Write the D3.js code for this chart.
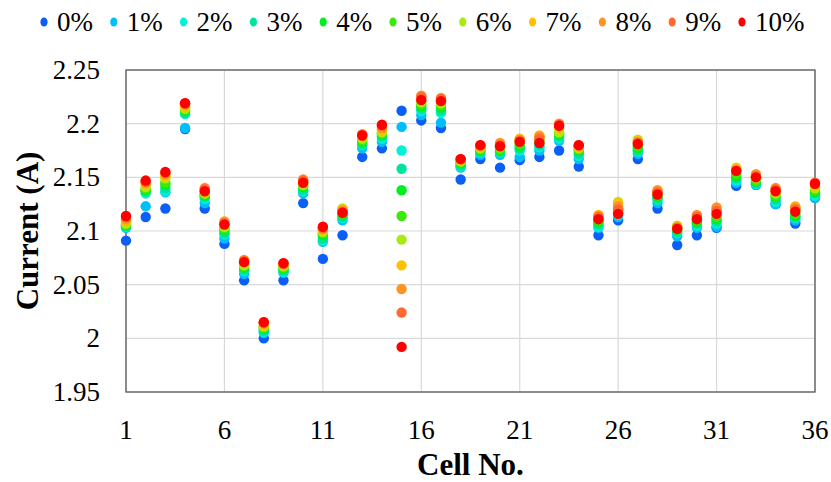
<!DOCTYPE html>
<html>
<head>
<script src="https://cdn.jsdelivr.net/npm/d3@7"></script>
</head>
<body style="margin:0">
<svg id="s" width="831" height="482"></svg>
<script>
// cell numbers and the x ticks
const cells = d3.range(1, 37)
const xTicks = [1, 6, 11, 16, 21, 26, 31, 36]
const yTicks = [1.95, 2, 2.05, 2.1, 2.15, 2.2, 2.25]

// legend names, one per fault level
const series = ["0%", "1%", "2%", "3%", "4%", "5%", "6%", "7%", "8%", "9%", "10%"]
const colors = ["#0b5ff7", "#00bff8", "#00f0d8", "#00e3a0", "#00ee22", "#3de80a",
                "#aaea10", "#ffc000", "#ff9422", "#ff6a30", "#ff0000"]

// current (A) per cell, one array per series
const current0 = [2.091, 2.113, 2.121, 2.195, 2.121, 2.088, 2.054, 2.000, 2.054, 2.126, 2.074, 2.096, 2.169, 2.177, 2.212, 2.203, 2.196, 2.148, 2.167, 2.159, 2.166, 2.169, 2.175, 2.160, 2.096, 2.110, 2.167, 2.121, 2.087, 2.096, 2.103, 2.142, 2.143, 2.125, 2.107, 2.131]
const current1 = [2.103, 2.123, 2.136, 2.196, 2.126, 2.093, 2.060, 2.005, 2.061, 2.135, 2.090, 2.110, 2.177, 2.183, 2.197, 2.208, 2.201, 2.159, 2.171, 2.171, 2.169, 2.175, 2.184, 2.167, 2.103, 2.113, 2.172, 2.126, 2.095, 2.103, 2.104, 2.145, 2.143, 2.125, 2.110, 2.131]
const current2 = [2.104, 2.135, 2.137, 2.209, 2.130, 2.097, 2.063, 2.006, 2.062, 2.137, 2.091, 2.112, 2.180, 2.186, 2.175, 2.212, 2.210, 2.160, 2.173, 2.173, 2.175, 2.178, 2.186, 2.170, 2.104, 2.115, 2.174, 2.129, 2.098, 2.105, 2.107, 2.147, 2.144, 2.127, 2.112, 2.133]
const current3 = [2.105, 2.137, 2.140, 2.210, 2.132, 2.098, 2.064, 2.007, 2.063, 2.138, 2.093, 2.113, 2.181, 2.188, 2.158, 2.214, 2.212, 2.161, 2.174, 2.174, 2.177, 2.180, 2.188, 2.172, 2.106, 2.117, 2.175, 2.130, 2.099, 2.107, 2.109, 2.149, 2.145, 2.129, 2.113, 2.135]
const current4 = [2.105, 2.138, 2.143, 2.212, 2.133, 2.101, 2.066, 2.009, 2.065, 2.141, 2.096, 2.115, 2.183, 2.190, 2.138, 2.216, 2.215, 2.163, 2.175, 2.175, 2.179, 2.182, 2.190, 2.175, 2.108, 2.119, 2.177, 2.132, 2.101, 2.108, 2.111, 2.151, 2.146, 2.132, 2.114, 2.136]
const current5 = [2.106, 2.139, 2.145, 2.213, 2.134, 2.102, 2.067, 2.010, 2.066, 2.142, 2.098, 2.116, 2.184, 2.191, 2.114, 2.218, 2.217, 2.164, 2.176, 2.176, 2.181, 2.184, 2.191, 2.176, 2.110, 2.121, 2.179, 2.133, 2.102, 2.110, 2.113, 2.153, 2.147, 2.133, 2.116, 2.138]
const current6 = [2.107, 2.141, 2.149, 2.214, 2.135, 2.104, 2.068, 2.011, 2.067, 2.143, 2.099, 2.121, 2.186, 2.192, 2.092, 2.220, 2.219, 2.165, 2.177, 2.178, 2.184, 2.187, 2.192, 2.177, 2.112, 2.127, 2.185, 2.135, 2.105, 2.112, 2.116, 2.159, 2.149, 2.135, 2.120, 2.140]
const current7 = [2.109, 2.143, 2.151, 2.216, 2.137, 2.107, 2.071, 2.012, 2.068, 2.145, 2.101, 2.120, 2.188, 2.194, 2.068, 2.223, 2.222, 2.166, 2.178, 2.180, 2.186, 2.189, 2.196, 2.178, 2.115, 2.126, 2.184, 2.137, 2.104, 2.114, 2.119, 2.158, 2.151, 2.137, 2.123, 2.142]
const current8 = [2.111, 2.145, 2.153, 2.218, 2.140, 2.109, 2.073, 2.014, 2.069, 2.148, 2.102, 2.119, 2.190, 2.196, 2.046, 2.226, 2.224, 2.167, 2.179, 2.182, 2.185, 2.188, 2.200, 2.179, 2.114, 2.123, 2.183, 2.138, 2.103, 2.115, 2.122, 2.157, 2.153, 2.140, 2.122, 2.144]
const current9 = [2.113, 2.146, 2.154, 2.219, 2.139, 2.107, 2.072, 2.015, 2.070, 2.147, 2.103, 2.118, 2.190, 2.198, 2.024, 2.225, 2.223, 2.167, 2.180, 2.180, 2.184, 2.186, 2.199, 2.180, 2.113, 2.120, 2.182, 2.136, 2.103, 2.113, 2.119, 2.156, 2.151, 2.139, 2.120, 2.145]
const current10 = [2.114, 2.147, 2.155, 2.219, 2.137, 2.106, 2.071, 2.015, 2.070, 2.145, 2.104, 2.117, 2.189, 2.199, 1.992, 2.222, 2.221, 2.167, 2.180, 2.179, 2.183, 2.182, 2.198, 2.180, 2.111, 2.116, 2.181, 2.134, 2.102, 2.111, 2.116, 2.156, 2.150, 2.137, 2.118, 2.144]

const values = [current0, current1, current2, current3, current4, current5,
                current6, current7, current8, current9, current10]

const width = 831, height = 482
const margin = {top: 70, right: 16, bottom: 90, left: 126}
const serif = "'Liberation Serif'"

const svg = d3.select("#s")

const x = d3.scaleLinear()
    .domain([1, 36])
    .range([margin.left, width - margin.right])
const y = d3.scaleLinear()
    .domain([1.95, 2.25])
    .range([height - margin.bottom, margin.top])

// gridlines
svg.append("g")
    .selectAll("line")
    .data(xTicks)
    .join("line")
    .attr("x1", d => x(d)).attr("x2", d => x(d))
    .attr("y1", y(2.25)).attr("y2", y(1.95))
    .attr("stroke", "#d9d9d9")
    .attr("stroke-width", 1.2)
svg.append("g")
    .selectAll("line")
    .data(yTicks)
    .join("line")
    .attr("x1", x(1)).attr("x2", x(36))
    .attr("y1", d => y(d)).attr("y2", d => y(d))
    .attr("stroke", "#d9d9d9")
    .attr("stroke-width", 1.2)

// plot frame
svg.append("rect")
    .attr("x", x(1)).attr("y", y(2.25))
    .attr("width", x(36) - x(1))
    .attr("height", y(1.95) - y(2.25))
    .attr("fill", "none")
    .attr("stroke", "#595959")
    .attr("stroke-width", 1.3)

// tick labels placed from the scales
svg.selectAll("text.xt")
    .data(xTicks)
    .join("text")
    .attr("class", "xt")
    .attr("x", d => x(d))
    .attr("y", y(1.95) + 47)
    .attr("text-anchor", "middle")
    .attr("font-size", 27)
    .style("font-family", serif)
    .text(d => d)

svg.selectAll("text.yt")
    .data(yTicks)
    .join("text")
    .attr("class", "yt")
    .attr("x", x(1) - 26)
    .attr("y", d => y(d) + 9)
    .attr("text-anchor", "end")
    .attr("font-size", 27)
    .style("font-family", serif)
    .text(d => d3.format("~g")(d))

// points, 0% first so 10% ends up on top
const pts = svg.append("g")
values.forEach((arr, si) => {
    pts.append("g")
        .selectAll("circle")
        .data(arr)
        .join("circle")
        .attr("cx", (d, i) => x(cells[i]))
        .attr("cy", d => y(d))
        .attr("r", 5.2)
        .attr("fill", colors[si])
})

// axis titles
svg.append("text")
    .attr("x", (x(1) + x(36)) / 2)
    .attr("y", 475)
    .attr("text-anchor", "middle")
    .attr("font-size", 31)
    .attr("font-weight", "bold")
    .style("font-family", serif)
    .text("Cell No.")

svg.append("text")
    .attr("transform", `translate(38,${(y(1.95) + y(2.25)) / 2}) rotate(-90)`)
    .attr("text-anchor", "middle")
    .attr("font-size", 31)
    .attr("font-weight", "bold")
    .style("font-family", serif)
    .text("Current (A)")

// legend
const legend = svg.append("g")
    .selectAll("g")
    .data(series)
    .join("g")
    .attr("transform", (d, i) => `translate(${44 + i * 69.8},22)`)
legend.append("ellipse")
    .attr("rx", 3.6).attr("ry", 4.6)
    .attr("fill", (d, i) => colors[i])
legend.append("text")
    .attr("x", 13)
    .attr("y", 9)
    .attr("font-size", 27)
    .style("font-family", serif)
    .text(d => d)
</script>
</body>
</html>
